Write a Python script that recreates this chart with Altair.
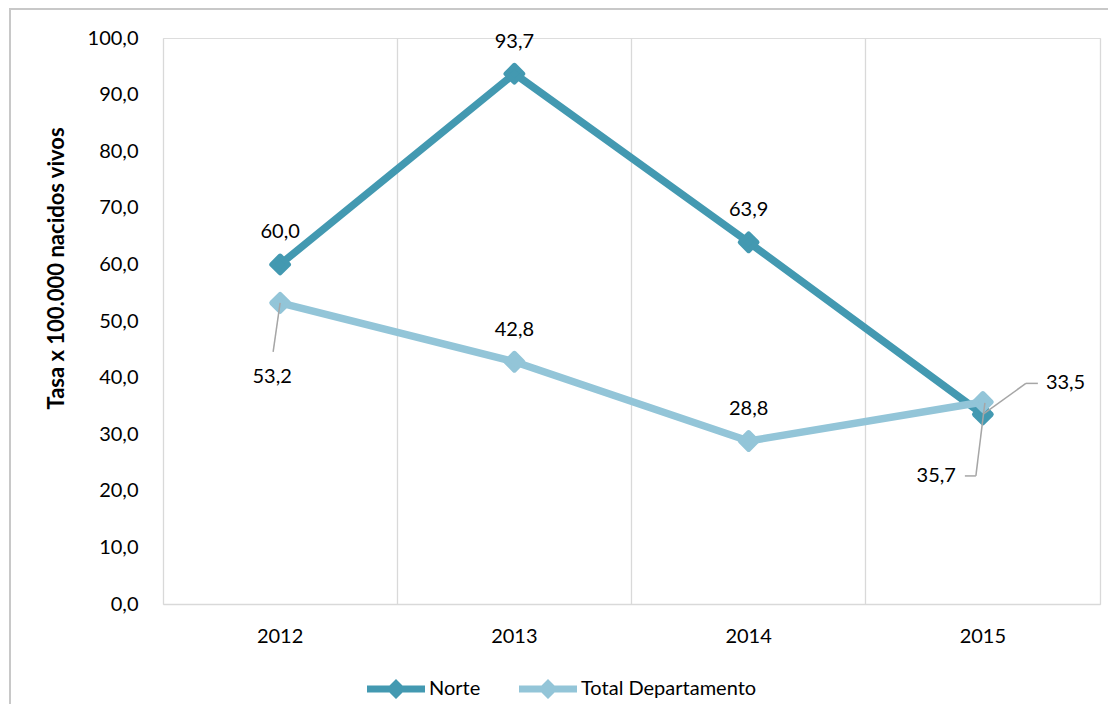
import altair as alt
import pandas as pd

years = ["2012", "2013", "2014", "2015"]
norte = [60.0, 93.7, 63.9, 33.5]
total = [53.2, 42.8, 28.8, 35.7]
series = ["Norte", "Total Departamento"]
colors = ["#4399B1", "#93C5D8"]
y_ticks = [0, 10, 20, 30, 40, 50, 60, 70, 80, 90, 100]
y_title = "Tasa x 100.000 nacidos vivos"

df = pd.DataFrame({
    "year": years * 2,
    "value": norte + total,
    "series": [series[0]] * len(years) + [series[1]] * len(years),
})

FONT = "Lato"
FS = 20

base = alt.Chart(df).transform_calculate(
    label="replace(format(datum.value, '.1f'), '.', ',')"
)

x_enc = alt.X(
    "year:N",
    scale=alt.Scale(paddingInner=0, paddingOuter=0),
    axis=alt.Axis(
        title=None, bandPosition=1, labelOffset=0, grid=True,
        gridColor="#D9D9D9", gridWidth=1.3, domainColor="#D9D9D9",
        domainWidth=1.3, ticks=False, tickSize=0, labelPadding=22,
        labelAngle=0, labelFont=FONT, labelFontSize=FS, labelColor="#000000",
    ),
)
y_enc = alt.Y(
    "value:Q",
    scale=alt.Scale(domain=[0, 100], nice=False),
    axis=alt.Axis(
        values=y_ticks, labelExpr="replace(format(datum.value, '.1f'), '.', ',')",
        grid=False, ticks=False, tickSize=0, domainColor="#D9D9D9",
        domainWidth=1.3, labelPadding=25, labelFont=FONT, labelFontSize=FS,
        labelColor="#000000", title=y_title, titleFont=FONT, titleFontSize=22,
        titleFontWeight="bold", titleColor="#000000", titleAngle=-90,
        titleX=-107, titleY=230, titleAlign="center", titleBaseline="middle",
    ),
)
color_scale = alt.Scale(domain=series, range=colors)


def series_layers(name, with_legend):
    d = base.transform_filter(alt.datum.series == name)
    line = d.mark_line(strokeWidth=7.5, strokeJoin="round", strokeCap="round").encode(
        x=x_enc, y=y_enc,
        color=alt.Color("series:N", scale=color_scale, legend=None),
    )
    leg = None
    if with_legend:
        leg = alt.Legend(
            title=None, orient="none", legendX=223, legendY=641, direction="horizontal",
            columns=2, padding=0,
            symbolType="M-2.9,-0.35 L-0.65,-0.35 L0,-1 L0.65,-0.35 L2.9,-0.35 L2.9,0.35 L0.65,0.35 L0,1 L-0.65,0.35 L-2.9,0.35 Z",
            symbolSize=400, symbolStrokeWidth=0, symbolOpacity=1,
            labelOffset=23, columnPadding=38, labelFont=FONT, labelFontSize=FS,
            labelColor="#000000", labelLimit=400,
        )
    pts = d.mark_point(shape="diamond", filled=True, size=280, strokeWidth=5,
                       strokeJoin="round", opacity=1).encode(
        x=x_enc, y=y_enc,
        color=alt.Color("series:N", scale=color_scale, legend=leg),
        stroke=alt.Stroke("series:N", scale=color_scale, legend=None),
    )
    return [line, pts]


txt = dict(font=FONT, fontSize=FS, color="#000000", baseline="middle")
lead = dict(color="#A6A6A6", strokeWidth=1.5)

above = base.transform_filter(
    "(datum.series == 'Norte' && datum.year != '2015') || "
    "(datum.series == 'Total Departamento' && (datum.year == '2013' || datum.year == '2014'))"
).mark_text(dy=-32, align="center", **txt).encode(x="year:N", y="value:Q", text="label:N")

t2012 = base.transform_filter(
    "datum.series == 'Total Departamento' && datum.year == '2012'")
lab_t2012 = t2012.mark_text(dy=74, dx=-8, align="center", **txt).encode(
    x="year:N", y="value:Q", text="label:N")
lead_t2012 = t2012.mark_rule(x2Offset=-7, y2Offset=49, **lead).encode(
    x="year:N", y="value:Q", x2="year:N", y2="value:Q")

n2015 = base.transform_filter("datum.series == 'Norte' && datum.year == '2015'")
lab_n2015 = n2015.mark_text(dx=63, dy=-31, align="left", **txt).encode(
    x="year:N", y="value:Q", text="label:N")
lead_n2015a = n2015.mark_rule(x2Offset=43, y2Offset=-31, **lead).encode(
    x="year:N", y="value:Q", x2="year:N", y2="value:Q")
lead_n2015b = n2015.mark_rule(xOffset=43, yOffset=-31, x2Offset=55, y2Offset=-31, **lead).encode(
    x="year:N", y="value:Q", x2="year:N", y2="value:Q")

t2015 = base.transform_filter(
    "datum.series == 'Total Departamento' && datum.year == '2015'")
lab_t2015 = t2015.mark_text(dx=-27, dy=74, align="right", **txt).encode(
    x="year:N", y="value:Q", text="label:N")
lead_t2015a = t2015.mark_rule(xOffset=2, yOffset=1, x2Offset=-7, y2Offset=74, **lead).encode(
    x="year:N", y="value:Q", x2="year:N", y2="value:Q")
lead_t2015b = t2015.mark_rule(xOffset=-7, yOffset=74, x2Offset=-18, y2Offset=74, **lead).encode(
    x="year:N", y="value:Q", x2="year:N", y2="value:Q")

frame = alt.Chart(pd.DataFrame({"k": [0]})).mark_rect(
    fill="transparent", stroke="#C8C8C8", strokeWidth=2
).encode(x=alt.value(-153), x2=alt.value(1200), y=alt.value(-29), y2=alt.value(800))

layers = [frame] + series_layers(series[0], True) + series_layers(series[1], False) + [
    above, lab_t2012, lead_t2012, lab_n2015, lead_n2015a, lead_n2015b,
    lab_t2015, lead_t2015a, lead_t2015b,
]

chart = alt.layer(*layers).resolve_legend(
    color="independent", stroke="independent"
).properties(
    width=937, height=566,
    autosize=alt.AutoSizeParams(type="none"),
    padding={"left": 155, "top": 30, "right": 8, "bottom": 100},
).configure_view(stroke=None).configure(background="white")

chart.save("out.html", embed_options={"renderer": "svg", "actions": False})
